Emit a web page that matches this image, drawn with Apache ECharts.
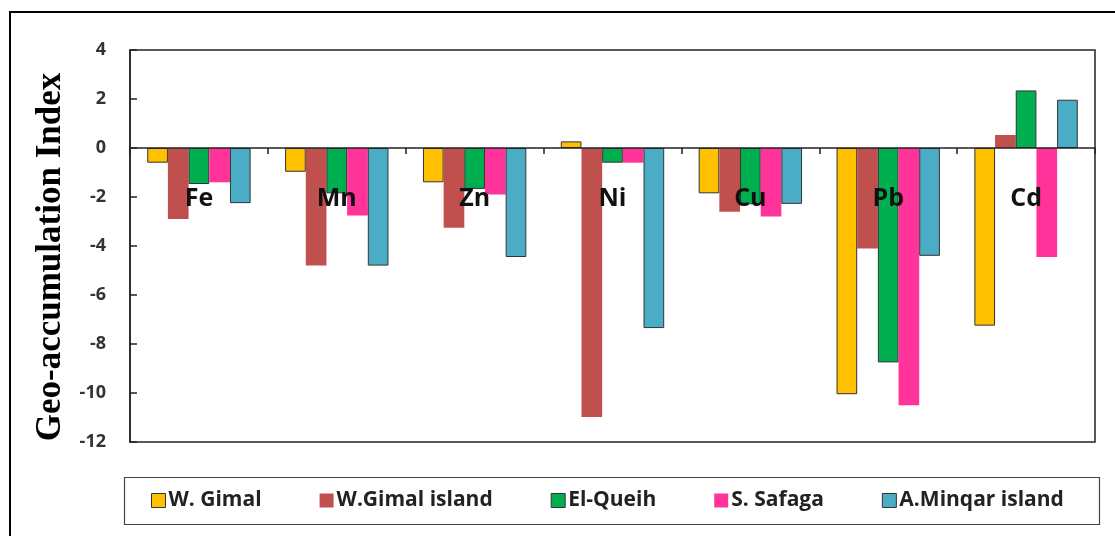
<!DOCTYPE html>
<html>
<head>
<meta charset="utf-8">
<script src="https://cdn.jsdelivr.net/npm/echarts@6/dist/echarts.min.js"></script>
<style>
html,body{margin:0;padding:0;background:#fff;}
#chart{width:1115px;height:536px;}
</style>
</head>
<body>
<div id="chart"></div>
<script>
const categories = ['Fe', 'Mn', 'Zn', 'Ni', 'Cu', 'Pb', 'Cd'];
const seriesNames = ['W. Gimal', 'W.Gimal island', 'El-Queih', 'S. Safaga', 'A.Minqar island'];
const wGimal       = [-0.6, -0.97, -1.4, 0.27, -1.85, -10.05, -7.25];
const wGimalIsland = [-2.9, -4.8, -3.25, -10.98, -2.6, -4.1, 0.53];
const elQueih      = [-1.47, -1.85, -1.67, -0.6, -2.3, -8.75, 2.35];
const sSafaga      = [-1.4, -2.75, -1.9, -0.6, -2.8, -10.5, -4.45];
const aMinqar      = [-2.25, -4.8, -4.45, -7.35, -2.28, -4.4, 1.97];
const yTicks = [-12, -10, -8, -6, -4, -2, 0, 2, 4];

const seriesData = [wGimal, wGimalIsland, elQueih, sSafaga, aMinqar];
const colors = ['#FFC000', '#C0504D', '#00B050', '#FF3399', '#4BACC6'];
const borders = ['#333', null, '#333', null, '#333'];

const chart = echarts.init(document.getElementById('chart'));
const option = {
  animation: false,
  backgroundColor: '#fff',
  graphic: [{
    type: 'rect', z: 100,
    shape: {x: 10, y: 12, width: 1120, height: 540},
    style: {fill: 'none', stroke: '#000', lineWidth: 2}
  }, {
    type: 'rect', z: 1,
    shape: {x: 124.5, y: 477.5, width: 975, height: 47},
    style: {fill: 'none', stroke: '#444', lineWidth: 1.2}
  }],
  grid: {
    left: 130, top: 50, right: 20, bottom: 94,
    show: true, borderColor: '#222', borderWidth: 1.5, backgroundColor: 'transparent', z: 5
  },
  legend: {
    data: seriesNames.map((n, i) => ({
      name: n,
      itemStyle: borders[i] ? {borderColor: '#333', borderWidth: 1} : {borderWidth: 0}
    })),
    left: 151, top: 490,
    padding: 0,
    itemWidth: 14, itemHeight: 14, itemGap: 58,
    icon: 'rect',
    textStyle: {fontFamily: 'Open Sans', fontWeight: 'bold', fontSize: 21, color: '#222', padding: [0, 0, 0, -2]}
  },
  xAxis: {
    type: 'category',
    data: categories,
    z: 10,
    offset: -294,
    axisLine: {onZero: false, lineStyle: {color: '#222', width: 1.5}},
    axisTick: {show: true, length: 6, lineStyle: {color: '#222', width: 1.5}},
    axisLabel: {margin: 38, fontFamily: 'Open Sans', fontWeight: 'bold', fontSize: 25, color: '#111'}
  },
  yAxis: {
    type: 'value',
    min: -12, max: 4, interval: 2,
    name: 'Geo-accumulation Index',
    nameLocation: 'middle',
    nameGap: 62,
    nameTextStyle: {fontFamily: 'Liberation Serif', fontWeight: 'bold', fontSize: 35, color: '#000', padding: [0, 22, 0, 0]},
    axisLine: {show: true, lineStyle: {color: '#222', width: 1.5}},
    axisTick: {show: true, inside: true, length: 7, lineStyle: {color: '#222', width: 1.5}},
    splitLine: {show: false},
    axisLabel: {
      margin: 24, fontFamily: 'Open Sans', fontWeight: 'bold', fontSize: 18, color: '#333',
      formatter: v => yTicks.includes(v) ? String(v) : ''
    }
  },
  series: seriesNames.map((n, i) => ({
    name: n,
    type: 'bar',
    data: seriesData[i],
    barGap: '0%',
    barCategoryGap: '25%',
    itemStyle: {
      color: colors[i],
      borderColor: borders[i] || colors[i],
      borderWidth: borders[i] ? 1 : 0
    }
  }))
};
chart.setOption(option);
</script>
</body>
</html>
